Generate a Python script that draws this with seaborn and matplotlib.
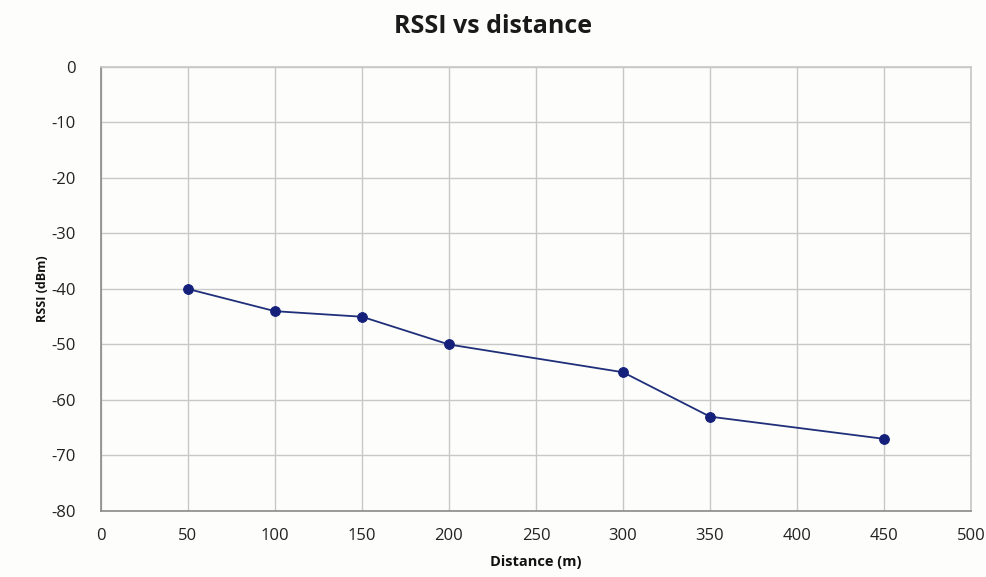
import matplotlib
matplotlib.use("Agg")
import matplotlib.pyplot as plt
import seaborn as sns
import pandas as pd

distance = [50, 100, 150, 200, 300, 350, 450]
rssi = [-40, -44, -45, -50, -55, -63, -67]
x_ticks = [0, 50, 100, 150, 200, 250, 300, 350, 400, 450, 500]
y_ticks = [0, -10, -20, -30, -40, -50, -60, -70, -80]

df = pd.DataFrame({"Distance (m)": distance, "RSSI (dBm)": rssi})

sns.set_theme(style="whitegrid")
plt.rcParams["font.family"] = ["Open Sans", "DejaVu Sans"]
plt.rcParams["axes.unicode_minus"] = False

fig = plt.figure(figsize=(9.87, 5.77), dpi=100)
fig.patch.set_facecolor("#fdfdfb")
ax = fig.add_axes([0.1023, 0.1144, 0.8815, 0.7695])
ax.set_facecolor("#fdfdfb")

sns.lineplot(data=df, x="Distance (m)", y="RSSI (dBm)", ax=ax, color="#1f2f7a",
             linewidth=1.3, marker="o", markersize=7, markerfacecolor="#15207a",
             markeredgecolor="#15207a")

ax.set_xlim(0, 500)
ax.set_ylim(-80, 0)
ax.set_xticks(x_ticks)
ax.set_yticks(y_ticks)
ax.tick_params(axis="both", labelsize=12, colors="#222222", length=0)
ax.tick_params(axis="x", pad=12)
ax.tick_params(axis="y", pad=18)
for lbl in ax.get_xticklabels() + ax.get_yticklabels():
    lbl.set_fontweight("medium")
ax.grid(True, color="#c8c8c8", linewidth=1.0)
for s in ["left", "bottom"]:
    ax.spines[s].set_color("#8a8a8a")
    ax.spines[s].set_linewidth(1.2)
ax.spines["right"].set_color("#c8c8c8")
ax.spines["top"].set_color("#c8c8c8")

ax.set_xlabel("Distance (m)", fontsize=10.5, fontweight="bold", color="#111111", labelpad=8)
ax.set_ylabel("RSSI (dBm)", fontsize=9, fontweight="bold", color="#111111", labelpad=2)
fig.suptitle("RSSI vs distance", fontsize=18, fontweight="bold", color="#1a1a1a", y=0.975)

fig.savefig("out.png", dpi=100, facecolor=fig.get_facecolor())
